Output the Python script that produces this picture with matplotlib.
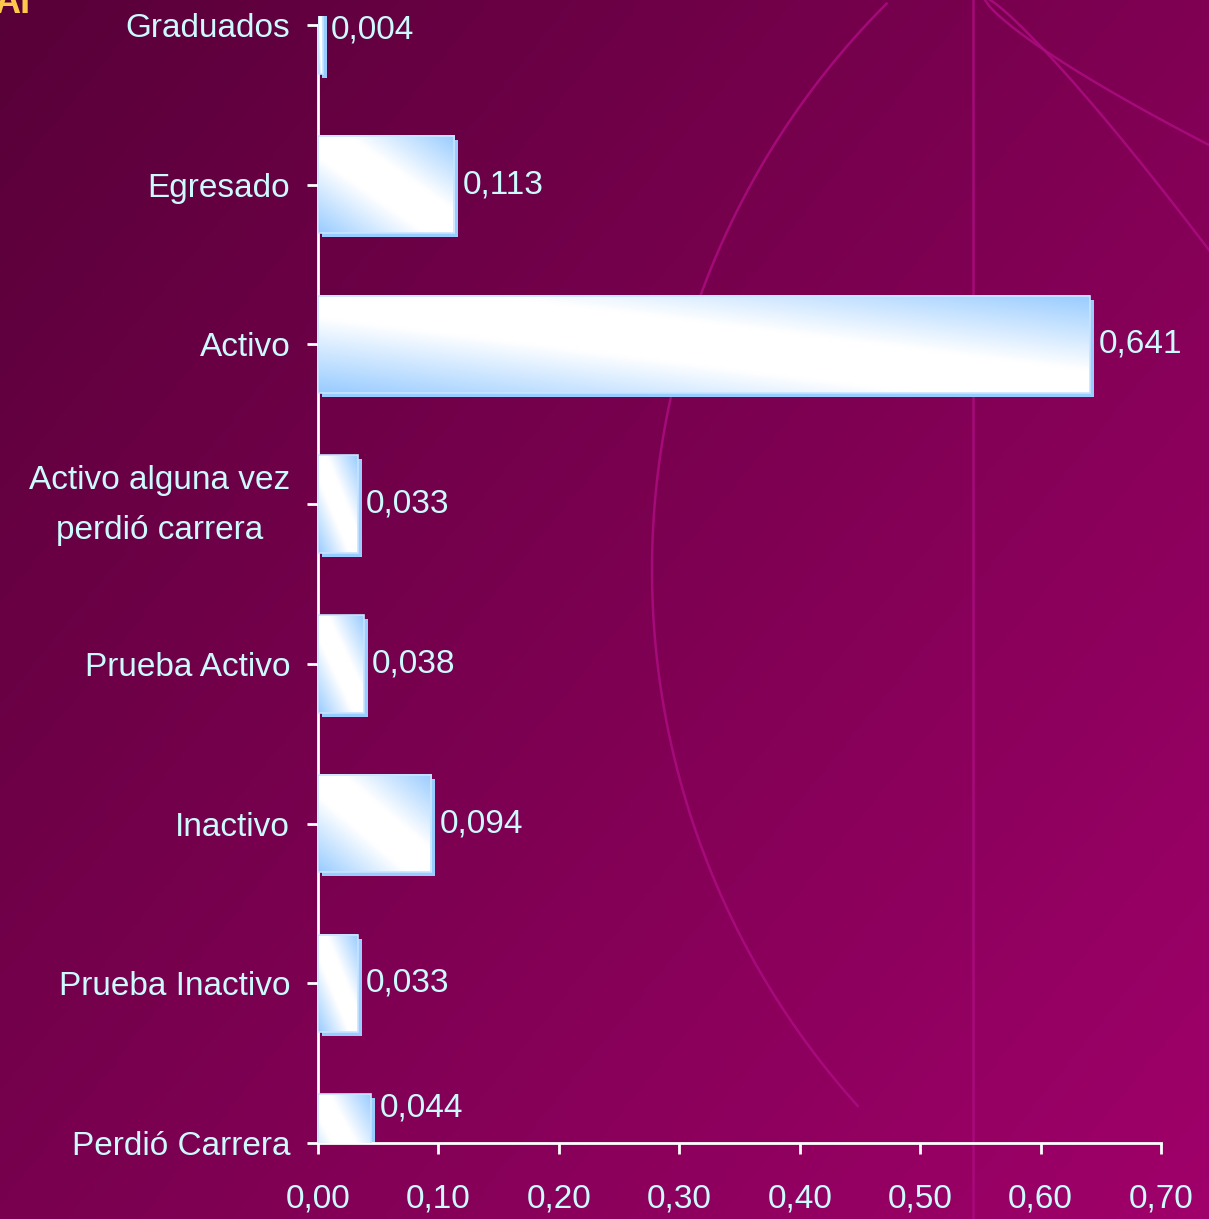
import numpy as np
import matplotlib
matplotlib.use("Agg")
import matplotlib.pyplot as plt
from matplotlib.colors import LinearSegmentedColormap
from matplotlib.patches import Rectangle
from matplotlib.transforms import offset_copy, ScaledTranslation

# ── Data ──────────────────────────────────────────────────────────────────────
categories = [
    "Perdió Carrera",
    "Prueba Inactivo",
    "Inactivo",
    "Prueba Activo",
    "Activo alguna vez\nperdió carrera",
    "Activo",
    "Egresado",
    "Graduados",
]
values = [0.044, 0.033, 0.094, 0.038, 0.033, 0.641, 0.113, 0.004]
xticks = [0.0, 0.1, 0.2, 0.3, 0.4, 0.5, 0.6, 0.7]
xtick_labels = ["0,00", "0,10", "0,20", "0,30", "0,40", "0,50", "0,60", "0,70"]

# ── Style ─────────────────────────────────────────────────────────────────────
W, H = 1209, 1219
TXT = "#ccfbff"
BLUE = "#99ccff"
FS = 24
FONT = ["Liberation Sans Narrow", "Liberation Sans", "DejaVu Sans"]
plt.rcParams["font.family"] = FONT

fig = plt.figure(figsize=(W / 100, H / 100), dpi=100)

# background gradient + decorative arcs (pixel coords, y downwards)
bg = fig.add_axes([0, 0, 1, 1])
gx, gy = np.meshgrid(np.linspace(0, 1, 300), np.linspace(0, 1, 300))
t = (gx * 0.55 + gy * 0.45)
c0 = np.array([0x58, 0x00, 0x38]) / 255
c1 = np.array([0xa0, 0x00, 0x6a]) / 255
img = c0 + (c1 - c0) * t[..., None]
bg.imshow(img, extent=[0, W, H, 0], aspect="auto")
arc_kw = dict(color="#ac0c80", lw=1.8, alpha=0.85)
th = np.linspace(np.radians(135), np.radians(222), 200)
bg.plot(1453 + 801 * np.cos(th), 570 - 801 * np.sin(th), **arc_kw)
bg.plot([973, 973], [0, H], **arc_kw)
s = np.linspace(0, 1, 50)
bg.plot(985 + 224 * s, 145 * s ** 0.8, **arc_kw)
bg.plot(990 + 219 * s, 250 * s ** 1.15, **arc_kw)
bg.set_xlim(0, W)
bg.set_ylim(H, 0)
bg.axis("off")
bg.text(-6, -14, "AI", color="#ffc84a", fontsize=26, fontweight="bold",
        va="top", ha="left")

# main axes
ax = fig.add_axes([318 / W, 1 - 1143 / H, (1161 - 318) / W, (1143 - 16) / H])
ax.patch.set_alpha(0)

cmap = LinearSegmentedColormap.from_list(
    "bar", [(0, "#ffffff"), (0.22, "#ffffff"), (1, BLUE)])
h = 0.61
u, v = np.meshgrid(np.linspace(0, 1, 200), np.linspace(0, 1, 60))
grad = np.abs(u - v)
shadow_tr = offset_copy(ax.transData, fig, x=4, y=-4, units="dots")
for i, val in enumerate(values):
    ax.add_patch(Rectangle((0, i - h / 2), val, h, transform=shadow_tr,
                           facecolor=BLUE, edgecolor="none", zorder=2))
    ax.imshow(grad, cmap=cmap, vmin=0, vmax=1, aspect="auto",
              extent=[0, val, i - h / 2, i + h / 2], origin="upper",
              zorder=3, interpolation="bilinear")
    ax.add_patch(Rectangle((0, i - h / 2), val, h, facecolor="none",
                           edgecolor="#c8e4ff", lw=1.2, zorder=4))
    ly = min(max(i, 0.22), len(values) - 1 - 0.03)
    ax.annotate(f"{val:.3f}".replace(".", ","), (val, ly),
                xytext=(6, 0), textcoords="offset points",
                color=TXT, fontsize=FS, va="center", ha="left", zorder=5)

ax.set_xlim(0, 0.7)
ax.set_ylim(0, 7.056)
ax.set_yticks(range(len(categories)))
ax.set_yticklabels(categories, multialignment="center", linespacing=1.8)
ax.set_xticks(xticks)
ax.set_xticklabels(xtick_labels)
ax.tick_params(axis="both", colors="white", labelcolor=TXT, labelsize=FS,
               width=2, length=8, direction="out")
ax.tick_params(axis="y", pad=12)
ax.tick_params(axis="x", pad=21)
for side in ["top", "right"]:
    ax.spines[side].set_visible(False)
for side in ["left", "bottom"]:
    ax.spines[side].set_color("white")
    ax.spines[side].set_linewidth(2)
ax.spines["left"].set_bounds(0, 7)

# two-line label sits a little higher in the original
two_line = ax.get_yticklabels()[4]
two_line.set_transform(two_line.get_transform()
                       + ScaledTranslation(0, 12 / 100, fig.dpi_scale_trans))

fig.savefig("out.png", dpi=100)
